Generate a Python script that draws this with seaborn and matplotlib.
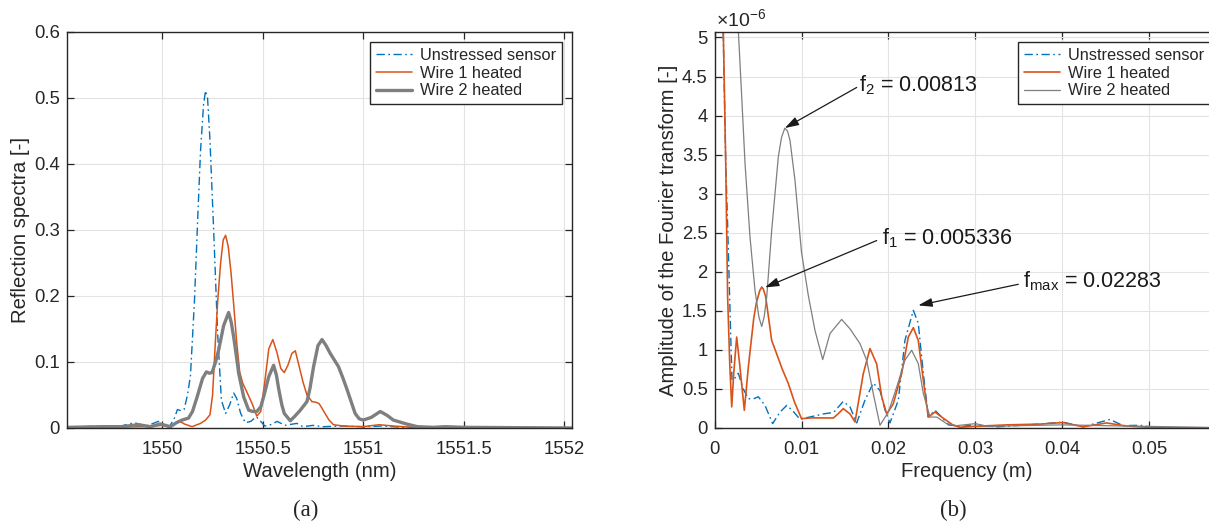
import numpy as np
import pandas as pd
import seaborn as sns
import matplotlib
matplotlib.use('Agg')
import matplotlib.pyplot as plt
from matplotlib.ticker import FuncFormatter

# (a) reflection spectra
wl_unstressed = [1549.53, 1549.6, 1549.7, 1549.78, 1549.86, 1549.92, 1549.98, 1550.035, 1550.06,
                 1550.075, 1550.095, 1550.108, 1550.125, 1550.14, 1550.16, 1550.175, 1550.19,
                 1550.205, 1550.215, 1550.225, 1550.237, 1550.256, 1550.275, 1550.294, 1550.315,
                 1550.335, 1550.355, 1550.37, 1550.39, 1550.413, 1550.44, 1550.468, 1550.49,
                 1550.51, 1550.54, 1550.572, 1550.61, 1550.67, 1550.7, 1550.75, 1550.8, 1550.9,
                 1551.0, 1551.1, 1551.2, 1551.3, 1552.04]
r_unstressed = [0.001, 0.002, 0.003, 0.002, 0.008, 0.003, 0.010, 0.002, 0.015,
                0.028, 0.026, 0.028, 0.05, 0.08, 0.194, 0.31, 0.42,
                0.49, 0.511, 0.50, 0.436, 0.295, 0.144, 0.042, 0.022,
                0.035, 0.053, 0.045, 0.022, 0.008, 0.01, 0.017, 0.01,
                0.003, 0.005, 0.01, 0.004, 0.007, 0.002, 0.004, 0.002, 0.003,
                0.002, 0.003, 0.001, 0.0, 0.0]

wl_wire1 = [1549.53, 1549.7, 1549.9, 1550.0, 1550.04, 1550.081, 1550.11, 1550.148, 1550.19,
            1550.215, 1550.237, 1550.25, 1550.262, 1550.275, 1550.29, 1550.303, 1550.315,
            1550.328, 1550.342, 1550.357, 1550.37, 1550.385, 1550.40, 1550.42, 1550.447,
            1550.47, 1550.49, 1550.51, 1550.53, 1550.55, 1550.57, 1550.59, 1550.607, 1550.625,
            1550.645, 1550.662, 1550.68, 1550.70, 1550.72, 1550.745, 1550.765, 1550.78,
            1550.795, 1550.81, 1550.83, 1550.852, 1550.9, 1551.0, 1551.08, 1551.15, 1551.25,
            1552.04]
r_wire1 = [0.0, 0.001, 0.002, 0.004, 0.001, 0.011, 0.006, 0.002, 0.007,
           0.012, 0.02, 0.05, 0.12, 0.19, 0.25, 0.285, 0.292,
           0.275, 0.235, 0.18, 0.13, 0.085, 0.068, 0.055, 0.037,
           0.018, 0.025, 0.07, 0.12, 0.134, 0.115, 0.09, 0.084, 0.095,
           0.113, 0.117, 0.095, 0.07, 0.05, 0.04, 0.039, 0.037,
           0.03, 0.022, 0.012, 0.005, 0.003, 0.002, 0.005, 0.003, 0.001,
           0.0]

wl_wire2 = [1549.53, 1549.7, 1549.8, 1549.88, 1549.94, 1549.99, 1550.04, 1550.07, 1550.098,
            1550.13, 1550.15, 1550.173, 1550.2, 1550.219, 1550.235, 1550.247, 1550.265,
            1550.28, 1550.305, 1550.33, 1550.343, 1550.355, 1550.368, 1550.38, 1550.405,
            1550.43, 1550.45, 1550.47, 1550.49, 1550.504, 1550.53, 1550.554, 1550.568,
            1550.58, 1550.595, 1550.607, 1550.637, 1550.66, 1550.687, 1550.72, 1550.735,
            1550.753, 1550.775, 1550.795, 1550.815, 1550.836, 1550.877, 1550.9, 1550.92,
            1550.94, 1550.96, 1550.98, 1551.0, 1551.04, 1551.085, 1551.12, 1551.15,
            1551.217, 1551.27, 1551.35, 1551.41, 1551.5, 1552.04]
r_wire2 = [0.001, 0.002, 0.002, 0.005, 0.002, 0.006, 0.002, 0.008, 0.012,
           0.015, 0.025, 0.047, 0.075, 0.085, 0.083, 0.084, 0.1,
           0.118, 0.155, 0.175, 0.16, 0.138, 0.11, 0.083, 0.047,
           0.027, 0.025, 0.025, 0.032, 0.047, 0.078, 0.095, 0.08,
           0.058, 0.035, 0.022, 0.011, 0.018, 0.027, 0.04, 0.06,
           0.093, 0.125, 0.134, 0.125, 0.113, 0.093, 0.075, 0.058,
           0.04, 0.022, 0.014, 0.012, 0.016, 0.025, 0.019, 0.012,
           0.006, 0.002, 0.001, 0.002, 0.001, 0.0]

# (b) Fourier amplitude, in units of 1e-6
f_unstressed = [0.0009, 0.00128, 0.0015, 0.00185, 0.002, 0.00215, 0.00273, 0.0033, 0.00388,
                0.0044, 0.00503, 0.0058, 0.00668, 0.0075, 0.0083, 0.009, 0.00983, 0.0105,
                0.01175, 0.0125, 0.0137, 0.0148, 0.01558, 0.01635, 0.0173, 0.01826, 0.01903,
                0.01961, 0.02018, 0.02114, 0.0219, 0.02287, 0.02344, 0.02402, 0.02459,
                0.02536, 0.02613, 0.0269, 0.0285, 0.0297, 0.0325, 0.0367, 0.0401, 0.0424,
                0.0455, 0.047, 0.049, 0.0498, 0.051, 0.058]
a_unstressed = [5.6, 3.4, 2.6, 1.2, 0.62, 0.61, 0.70, 0.50, 0.376,
                0.37, 0.40, 0.29, 0.056, 0.2, 0.29, 0.22, 0.11, 0.13,
                0.16, 0.18, 0.20, 0.34, 0.27, 0.065, 0.355, 0.576, 0.48,
                0.23, 0.065, 0.355, 1.12, 1.507, 1.34, 0.70, 0.14,
                0.227, 0.14, 0.04, 0.02, 0.04, 0.015, 0.045, 0.075, 0.015,
                0.11, 0.03, 0.035, 0.02, 0.0, 0.0]

f_wire1 = [0.0009, 0.001, 0.00128, 0.0015, 0.00175, 0.00197, 0.0022, 0.00254, 0.0029, 0.00342,
           0.0039, 0.0045, 0.0048, 0.0052, 0.00542, 0.0056, 0.00588, 0.00657, 0.00714, 0.0078,
           0.00848, 0.0092, 0.01, 0.0112, 0.01366, 0.0142, 0.01481, 0.01558, 0.01616, 0.01711,
           0.01788, 0.01865, 0.01923, 0.0198, 0.02056, 0.02153, 0.02229, 0.02287, 0.02344,
           0.02402, 0.02459, 0.02536, 0.02613, 0.02747, 0.02824, 0.0297, 0.0336, 0.03745,
           0.0401, 0.0424, 0.0451, 0.0474, 0.0497, 0.052, 0.058]
a_wire1 = [5.6, 5.09, 3.39, 1.68, 0.8, 0.27, 0.7, 1.165, 0.8, 0.227,
           0.8, 1.4, 1.6, 1.76, 1.805, 1.78, 1.68, 1.12, 0.95, 0.75,
           0.57, 0.33, 0.12, 0.13, 0.128, 0.18, 0.248, 0.18, 0.077, 0.696,
           1.017, 0.82, 0.40, 0.18, 0.31, 0.7, 1.165, 1.285, 1.12,
           0.61, 0.14, 0.205, 0.14, 0.035, 0.01, 0.02, 0.04, 0.05,
           0.07, 0.015, 0.065, 0.025, 0.01, 0.005, 0.002]

f_wire2 = [0.0025, 0.00273, 0.00312, 0.0035, 0.00407, 0.00465, 0.0051, 0.00542, 0.0057, 0.006,
           0.00657, 0.00733, 0.0077, 0.00808, 0.0084, 0.00868, 0.00925, 0.01, 0.01078, 0.01155,
           0.01244, 0.01328, 0.01462, 0.01558, 0.01673, 0.0175, 0.01826, 0.01903, 0.02,
           0.02096, 0.0219, 0.02268, 0.02344, 0.02402, 0.02479, 0.02556, 0.0267, 0.02786,
           0.03, 0.0315, 0.035, 0.04, 0.045, 0.05, 0.058]
a_wire2 = [6.0, 5.09, 4.24, 3.39, 2.45, 1.76, 1.42, 1.30, 1.42, 1.68,
           2.53, 3.47, 3.72, 3.84, 3.80, 3.68, 3.17, 2.25, 1.7, 1.25,
           0.876, 1.21, 1.39, 1.27, 1.08, 0.867, 0.44, 0.035, 0.205,
           0.525, 0.867, 0.995, 0.824, 0.44, 0.14, 0.14, 0.056, 0.03,
           0.056, 0.02, 0.03, 0.04, 0.03, 0.02, 0.005]

labels = ['Unstressed sensor', 'Wire 1 heated', 'Wire 2 heated']
c_blue, c_orange, c_gray = '#0072BD', '#D95319', '#7F7F7F'
dashdot = (0, (6, 2.5, 1.2, 2.5))

sns.set_theme(style='ticks')
plt.rcParams['font.family'] = ['Liberation Sans', 'DejaVu Sans']
plt.rcParams['mathtext.fontset'] = 'custom'
plt.rcParams['mathtext.rm'] = 'Liberation Sans'
plt.rcParams['mathtext.it'] = 'Liberation Sans:italic'
plt.rcParams['axes.edgecolor'] = '#262626'
plt.rcParams['xtick.color'] = '#262626'
plt.rcParams['ytick.color'] = '#262626'

fig = plt.figure(figsize=(12.09, 5.23), dpi=100)
ax1 = fig.add_axes([67 / 1209, 95 / 523, 505 / 1209, 396 / 523])
ax2 = fig.add_axes([714.6 / 1209, 95 / 523, 505 / 1209, 396 / 523])


def style_axes(ax):
    ax.grid(True, color='#e3e3e3', lw=0.8)
    ax.set_axisbelow(True)
    for s in ax.spines.values():
        s.set_linewidth(1.0)
        s.set_visible(True)
    ax.tick_params(direction='in', top=True, right=True, length=5, width=0.9,
                   labelsize=13.3)
    ax.tick_params(axis='x', pad=9)
    ax.tick_params(axis='y', pad=5)
    ax.yaxis.set_major_formatter(FuncFormatter(lambda v, p: f'{v:g}'))
    ax.xaxis.set_major_formatter(FuncFormatter(lambda v, p: f'{v:g}'))


# (a)
sns.lineplot(x=wl_unstressed, y=r_unstressed, ax=ax1, color=c_blue, lw=1.0,
             linestyle=dashdot, label=labels[0], sort=False)
sns.lineplot(x=wl_wire1, y=r_wire1, ax=ax1, color=c_orange, lw=1.1,
             label=labels[1], sort=False)
sns.lineplot(x=wl_wire2, y=r_wire2, ax=ax1, color=c_gray, lw=2.4,
             label=labels[2], sort=False)
ax1.set_xlim(1549.525, 1552.04)
ax1.set_ylim(0, 0.6)
ax1.set_xticks([1550, 1550.5, 1551, 1551.5, 1552])
ax1.set_yticks(np.arange(0, 0.61, 0.1))
style_axes(ax1)
ax1.set_xlabel('Wavelength (nm)', fontsize=14.6, labelpad=3, color='#262626')
ax1.set_ylabel('Reflection spectra [-]', fontsize=14.6, labelpad=3, color='#262626')

# (b)
sns.lineplot(x=f_unstressed, y=a_unstressed, ax=ax2, color=c_blue, lw=1.0,
             linestyle=dashdot, label=labels[0], sort=False)
sns.lineplot(x=f_wire1, y=a_wire1, ax=ax2, color=c_orange, lw=1.2,
             label=labels[1], sort=False)
sns.lineplot(x=f_wire2, y=a_wire2, ax=ax2, color=c_gray, lw=0.9,
             label=labels[2], sort=False)
ax2.set_xlim(0, 505 / 8690)
ax2.set_ylim(0, 5.07)
ax2.set_xticks([0, 0.01, 0.02, 0.03, 0.04, 0.05])
ax2.set_yticks(np.arange(0, 5.01, 0.5))
style_axes(ax2)
ax2.set_xlabel('Frequency (m)', fontsize=14.6, labelpad=3, color='#262626')
ax2.set_ylabel('Amplitude of the Fourier transform [-]', fontsize=14.6, labelpad=3,
               color='#262626')
ax2.text(0.002, 1.005, r'$\times\mathregular{10^{-6}}$', transform=ax2.transAxes,
         ha='left', va='bottom', fontsize=14, color='#262626')

for ax in (ax1, ax2):
    leg = ax.legend(loc='upper right', fontsize=11.8, frameon=True, fancybox=False,
                    edgecolor='#262626', framealpha=1, handlelength=2.2,
                    labelspacing=0.18, borderpad=0.35, borderaxespad=0.6,
                    handletextpad=0.5)
    leg.get_frame().set_linewidth(1.0)

arrow = dict(arrowstyle='-|>,head_length=0.7,head_width=0.22', color='k', lw=0.9,
             shrinkA=0, shrinkB=0)
notes = [(r'f$_2$ = 0.00813', (0.00808, 3.84), (0.01635, 4.36), (0.0166, 4.39)),
         (r'f$_1$ = 0.005336', (0.0058, 1.80), (0.01865, 2.40), (0.01926, 2.435)),
         (r'f$_{\mathrm{max}}$ = 0.02283', (0.02344, 1.57), (0.03495, 1.84), (0.0355, 1.878))]
for txt, tip, tail, pos in notes:
    ax2.annotate('', xy=tip, xytext=tail, arrowprops=arrow)
    ax2.text(pos[0], pos[1], txt, fontsize=15.5, ha='left', va='center', color='k')

fig.text(306 / 1209, 13 / 523, '(a)', family='Liberation Serif', fontsize=16.5,
         ha='center', va='center')
fig.text(953 / 1209, 13 / 523, '(b)', family='Liberation Serif', fontsize=16.5,
         ha='center', va='center')

fig.savefig('out.png', dpi=100)
